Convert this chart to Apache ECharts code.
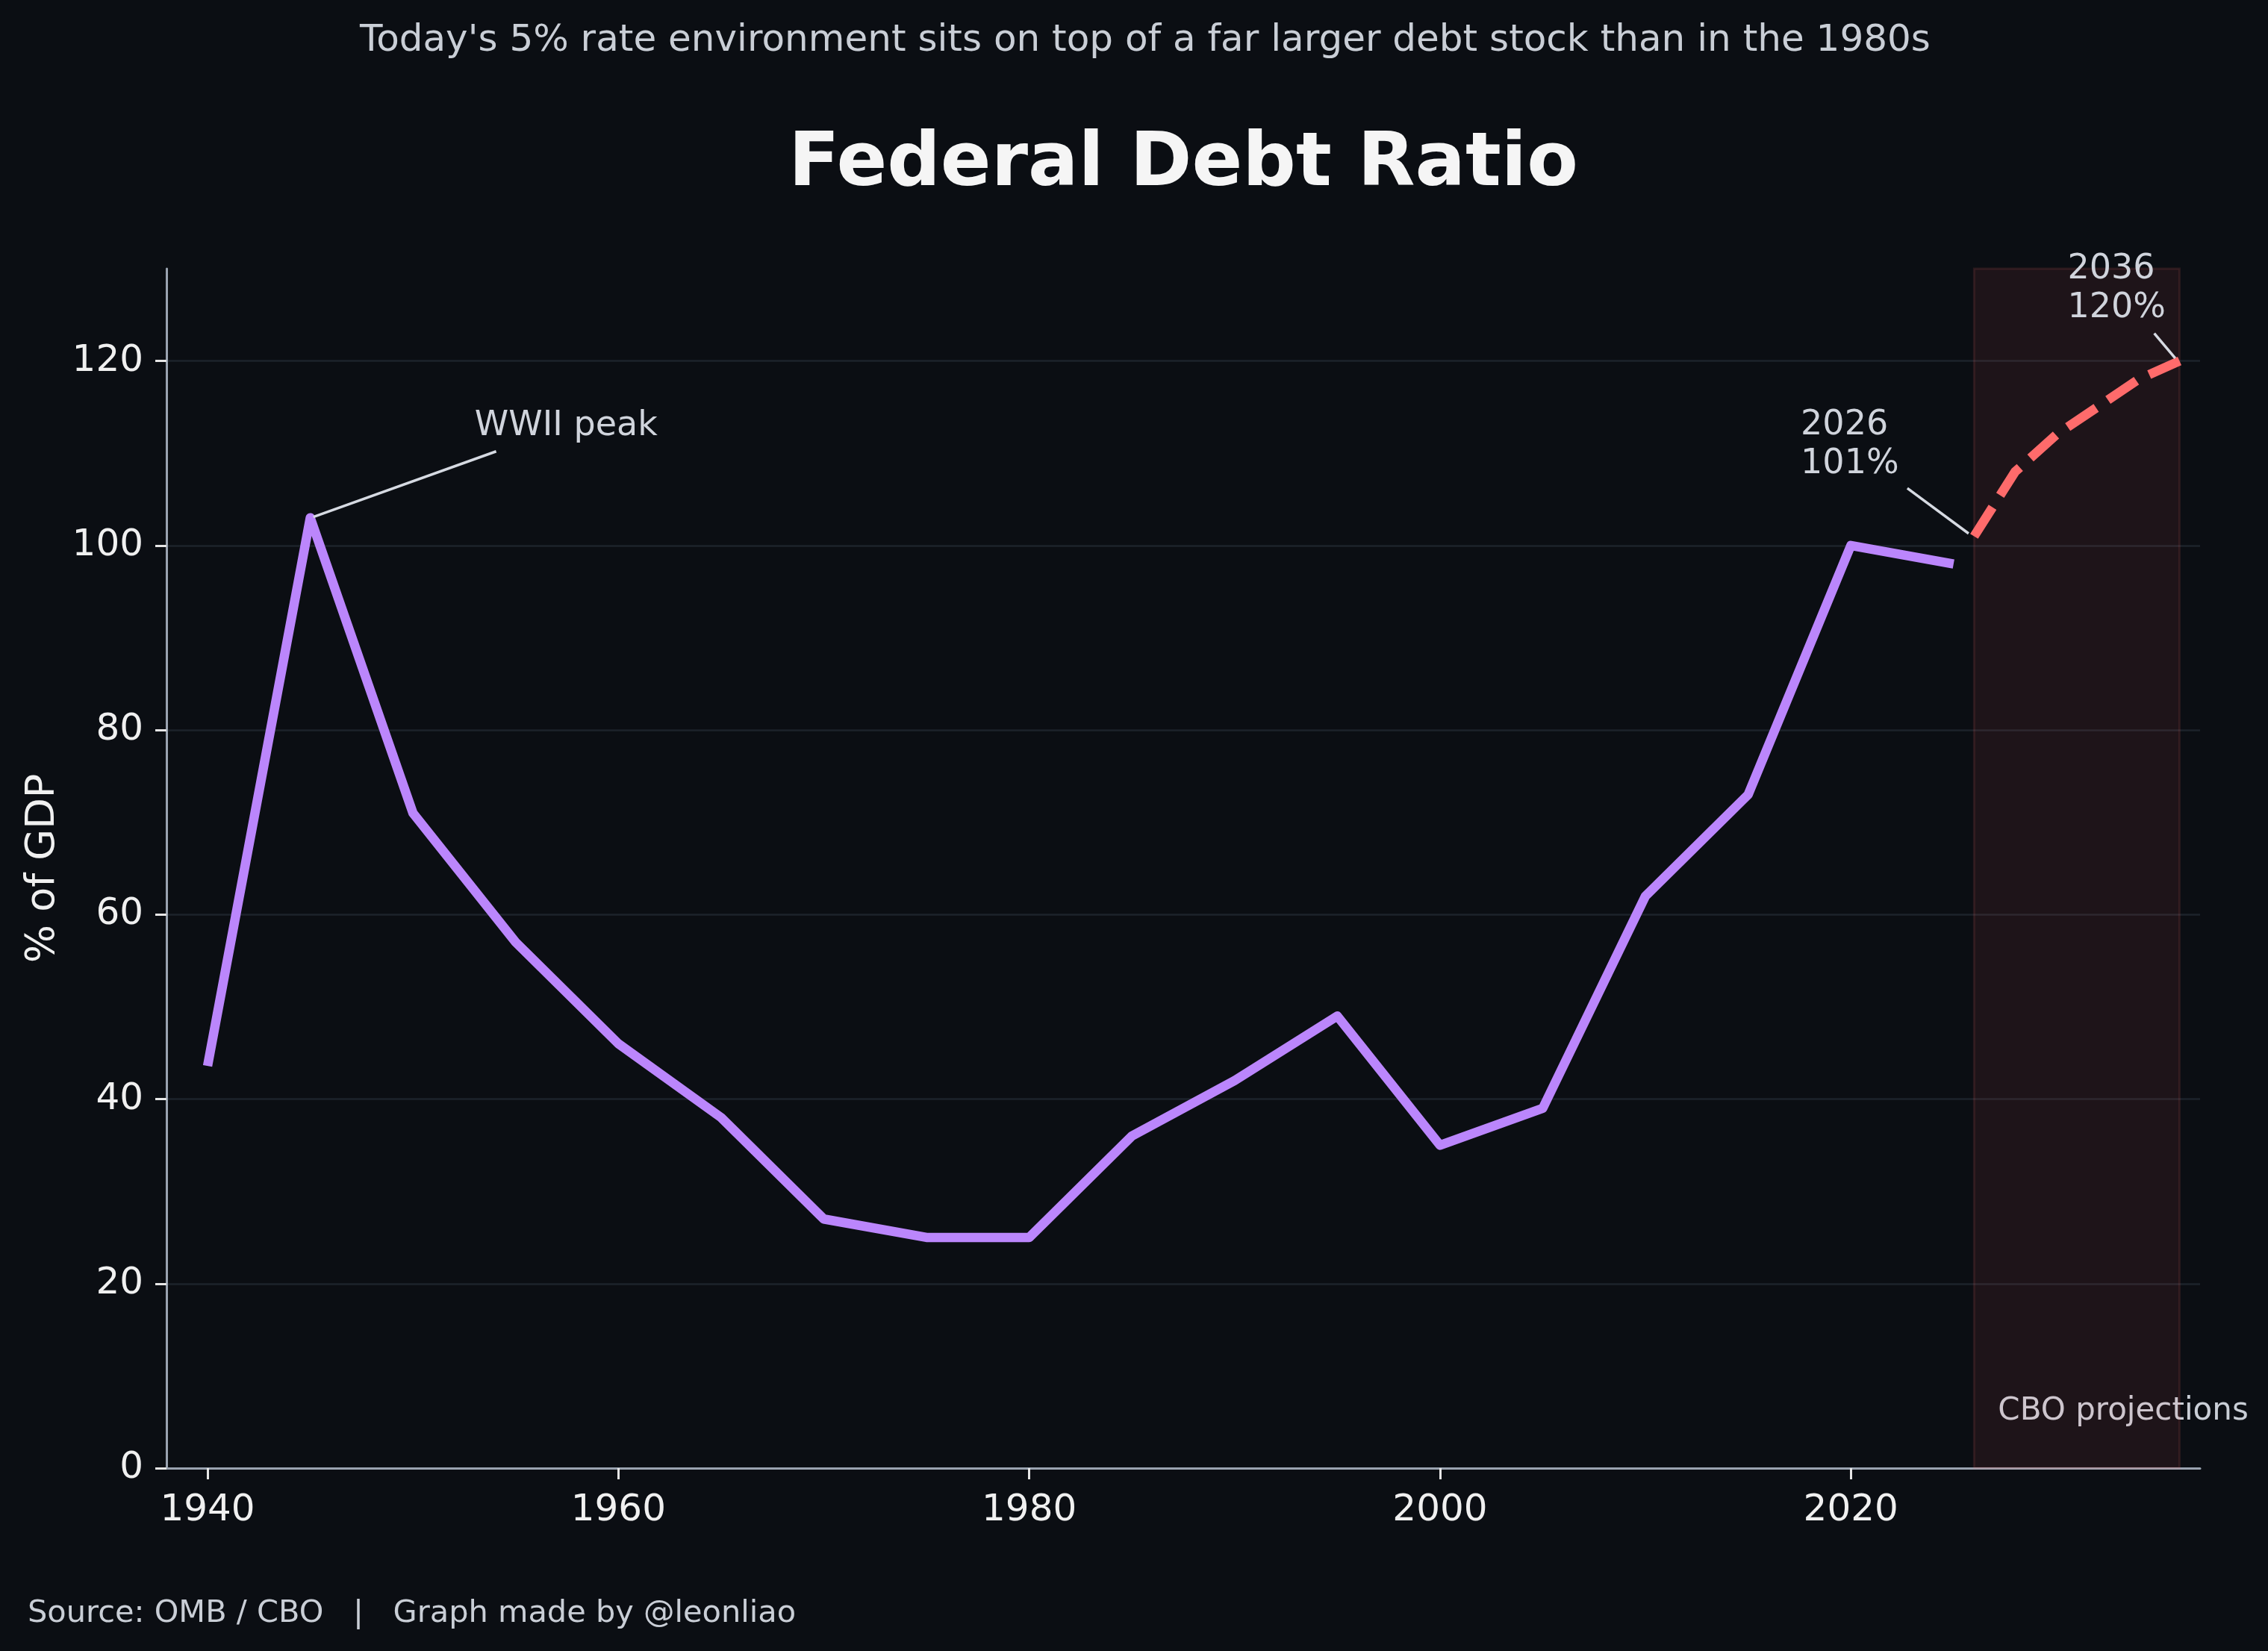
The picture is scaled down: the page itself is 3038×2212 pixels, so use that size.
<!DOCTYPE html>
<html>
<head>
<meta charset="utf-8">
<script src="https://cdn.jsdelivr.net/npm/echarts@6/dist/echarts.min.js"></script>
<style>
  html, body { margin: 0; padding: 0; background: #0b0e13; }
  #chart { width: 3038px; height: 2212px; }
</style>
</head>
<body>
<div id="chart"></div>
<script>
// historical debt held by public, % of GDP
const years = [1940, 1945, 1950, 1955, 1960, 1965, 1970, 1975, 1980, 1985, 1990, 1995, 2000, 2005, 2010, 2015, 2020, 2025];
const debtRatio = [43.6, 103, 71, 57, 46, 38, 27, 25, 25, 36, 42, 49, 35, 39, 62, 73, 100, 98];

// CBO projections
const projYears = [2026, 2028, 2030, 2032, 2034, 2036];
const projRatio = [101, 108, 112, 115, 118, 120];

const xTicks = [1940, 1960, 1980, 2000, 2020];
const yTicks = [0, 20, 40, 60, 80, 100, 120];

// annotations: text lines, text anchor (left, last baseline), leader line from -> to
const notes = [
  { lines: ['WWII peak'], textAt: [1953, 112], from: [1954.05, 110.2], to: [1945.15, 103.1] },
  { lines: ['2026', '101%'], textAt: [2017.56, 107.9], from: [2022.75, 106.2], to: [2025.73, 101.3] },
  { lines: ['2036', '120%'], textAt: [2030.55, 124.8], from: [2034.77, 123.0], to: [2035.79, 120.3] }
];

const FONT = 'DejaVu Sans';
const GRID = { left: 223, right: 91, top: 360, bottom: 245 };

const chart = echarts.init(document.getElementById('chart'));

chart.setOption({
  backgroundColor: '#0b0e13',
  animation: false,
  grid: { left: GRID.left, right: GRID.right, top: GRID.top, bottom: GRID.bottom },
  xAxis: {
    type: 'value',
    min: 1938,
    max: 2037,
    axisLine: { show: true, lineStyle: { color: '#9aa3b0', width: 3 } },
    axisTick: { show: true, length: 15, customValues: xTicks, lineStyle: { color: '#e6e6e6', width: 3 } },
    axisLabel: {
      customValues: xTicks,
      margin: 32,
      color: '#f0f0f0',
      fontSize: 50,
      fontFamily: FONT,
      formatter: (v) => String(v)
    },
    splitLine: { show: false }
  },
  yAxis: {
    type: 'value',
    min: 0,
    max: 130,
    axisLine: { show: true, lineStyle: { color: '#9aa3b0', width: 3 } },
    axisTick: { show: true, length: 15, customValues: yTicks, lineStyle: { color: '#e6e6e6', width: 3 } },
    axisLabel: {
      customValues: yTicks,
      margin: 31,
      color: '#f0f0f0',
      fontSize: 50,
      fontFamily: FONT
    },
    splitLine: { show: true, lineStyle: { color: '#1d232b', width: 2.5 } }
  },
  series: [
    {
      name: 'Historical',
      type: 'line',
      data: years.map((y, i) => [y, debtRatio[i]]),
      symbol: 'none',
      lineStyle: { color: '#bb86fc', width: 12.5, cap: 'butt', join: 'round' },
      z: 3
    },
    {
      name: 'CBO projections',
      type: 'line',
      data: projYears.map((y, i) => [y, projRatio[i]]),
      symbol: 'none',
      lineStyle: { color: '#ff6b6b', width: 12.5, type: [46, 19], cap: 'butt', join: 'round' },
      z: 3,
      markArea: {
        silent: true,
        itemStyle: { color: 'rgba(255,107,107,0.08)', borderColor: 'rgba(255,107,107,0.12)', borderWidth: 3 },
        data: [[{ xAxis: projYears[0] }, { xAxis: projYears[projYears.length - 1] }]]
      }
    }
  ]
});

// text & annotations placed via the chart's own scales
const px = (p) => chart.convertToPixel({ gridIndex: 0 }, p);
const MID = 0.25; // canvas 'middle' offset above alphabetic baseline, in em
const txt = (x, baseline, text, size, opts) => Object.assign({
  type: 'text',
  x: x,
  y: baseline - MID * size,
  style: Object.assign({
    text: text,
    fill: '#d0d4dc',
    font: `${size}px "${FONT}"`,
    align: 'left',
    verticalAlign: 'middle'
  }, (opts && opts.style) || {})
}, (opts && opts.el) || {});

const graphic = [];
const plotCenter = GRID.left + (3038 - GRID.left - GRID.right) / 2;

graphic.push(txt(1534, 68, "Today's 5% rate environment sits on top of a far larger debt stock than in the 1980s", 50,
  { style: { align: 'center', fill: '#c9ced6' } }));
graphic.push(txt(plotCenter, 247, 'Federal Debt Ratio', 100,
  { style: { align: 'center', fill: '#f5f5f5', font: `bold 100px "${FONT}"` } }));
graphic.push(txt(37, 2173, 'Source: OMB / CBO   |   Graph made by @leonliao', 41.5,
  { style: { fill: '#c9ced6' } }));
graphic.push({
  type: 'text',
  x: 71 - MID * 54,
  y: (GRID.top + 2212 - GRID.bottom) / 2,
  rotation: Math.PI / 2,
  style: { text: '% of GDP', fill: '#f0f0f0', font: `54px "${FONT}"`, align: 'center', verticalAlign: 'middle' }
});

// CBO projections label
const cbo = px([projYears[0], 0]);
graphic.push(txt(cbo[0] + 32, 1902, 'CBO projections', 42, { style: { fill: '#c9ced6' } }));

notes.forEach((n) => {
  const a = px(n.from), b = px(n.to);
  graphic.push({
    type: 'line',
    shape: { x1: a[0], y1: a[1], x2: b[0], y2: b[1] },
    style: { stroke: '#d6dae2', lineWidth: 3.5 },
    z: 10
  });
  const t = px(n.textAt);
  n.lines.forEach((line, i) => {
    const base = t[1] - (n.lines.length - 1 - i) * 52;
    graphic.push(txt(t[0], base, line, 46, { el: { z: 10 } }));
  });
});

chart.setOption({ graphic: graphic });
</script>
</body>
</html>
